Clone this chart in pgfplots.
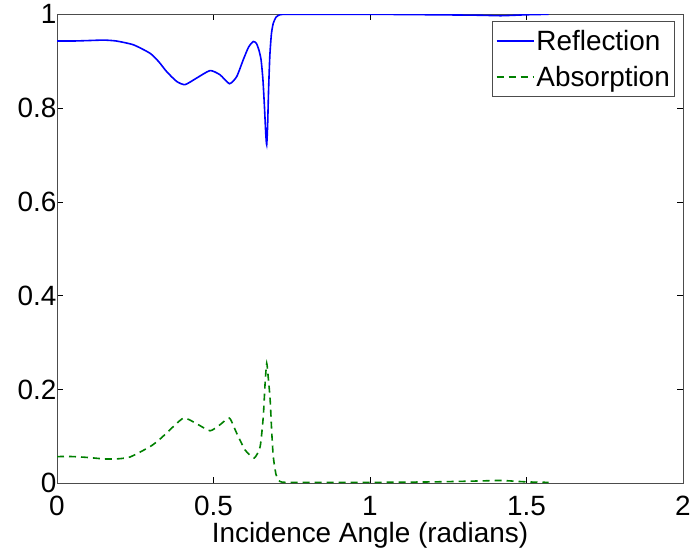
\documentclass[border=0pt]{standalone}
\usepackage{pgfplots}
\pgfplotsset{compat=1.18}
\usepackage{fontspec}
\setmainfont{Liberation Sans}
\begin{document}
\begin{tikzpicture}[font=\fontsize{28}{33}\selectfont]
\begin{axis}[
  scale only axis,
  width=626bp, height=469bp,
  xmin=0, xmax=2, ymin=0, ymax=1,
  xtick={0,0.5,1,1.5,2},
  ytick={0,0.2,0.4,0.6,0.8,1},
  /pgf/number format/assume math mode=true,
  tick align=inside,
  major tick length=6bp,
  tick style={black, line width=0.6bp},
  axis line style={black!70, line width=1bp},
  yticklabel style={xshift=3bp},
  xticklabel style={yshift=-9bp},
  xlabel={Incidence Angle (radians)},
  legend style={at={(rel axis cs:0.9875,0.986)}, anchor=north east,
    draw=black!70, line width=0.8bp, inner xsep=3bp, inner ysep=7bp, row sep=10bp,
    font=\fontsize{28}{33}\selectfont},
  legend cell align=left,
  legend image code/.code={\draw[#1] (-4bp,0bp) -- (33bp,0bp);},
]
\addplot[blue, line width=1.6bp, smooth, tension=0.35] coordinates {
(0,0.943) (0.05,0.943) (0.1,0.944) (0.15,0.945) (0.19,0.943) (0.244,0.935)
(0.297,0.917) (0.325,0.899) (0.35,0.878) (0.382,0.857) (0.409,0.850) (0.446,0.864)
(0.489,0.880) (0.521,0.871) (0.551,0.852) (0.574,0.867) (0.595,0.903)
(0.612,0.930) (0.627,0.942) (0.637,0.938) (0.645,0.924) (0.652,0.903)
(0.658,0.860) (0.663,0.800) (0.667,0.745) (0.670,0.722) (0.673,0.765)
(0.676,0.840) (0.680,0.912) (0.685,0.958) (0.691,0.981) (0.700,0.994)
(0.712,0.999) (0.73,1.0) (0.8,1.0) (1.0,1.0) (1.2,0.999) (1.35,0.998)
(1.42,0.997) (1.5,0.999) (1.5708,1.0)
};
\addlegendentry{Reflection}
\addplot[color={rgb,255:red,0;green,128;blue,0}, line width=1.6bp, dash pattern=on 7bp off 5bp, smooth, tension=0.35] coordinates {
(0,0.057) (0.05,0.057) (0.1,0.055) (0.15,0.052) (0.19,0.052) (0.233,0.056)
(0.297,0.078) (0.325,0.092) (0.35,0.107) (0.404,0.139) (0.446,0.127) (0.489,0.112)
(0.521,0.125) (0.551,0.139) (0.574,0.107) (0.601,0.071) (0.63,0.054)
(0.649,0.078) (0.659,0.142) (0.665,0.215) (0.670,0.256) (0.675,0.225)
(0.681,0.178) (0.686,0.110) (0.691,0.057) (0.700,0.018) (0.712,0.004)
(0.73,0.002) (0.8,0.002) (1.0,0.002) (1.2,0.003) (1.35,0.005) (1.42,0.006)
(1.5,0.003) (1.5708,0.002)
};
\addlegendentry{Absorption}
\end{axis}
\pgfresetboundingbox
\path[use as bounding box] ([shift={(-57bp,-70.5bp)}]current axis.south west) rectangle ([shift={(9bp,14.3bp)}]current axis.north east);
\end{tikzpicture}
\end{document}
